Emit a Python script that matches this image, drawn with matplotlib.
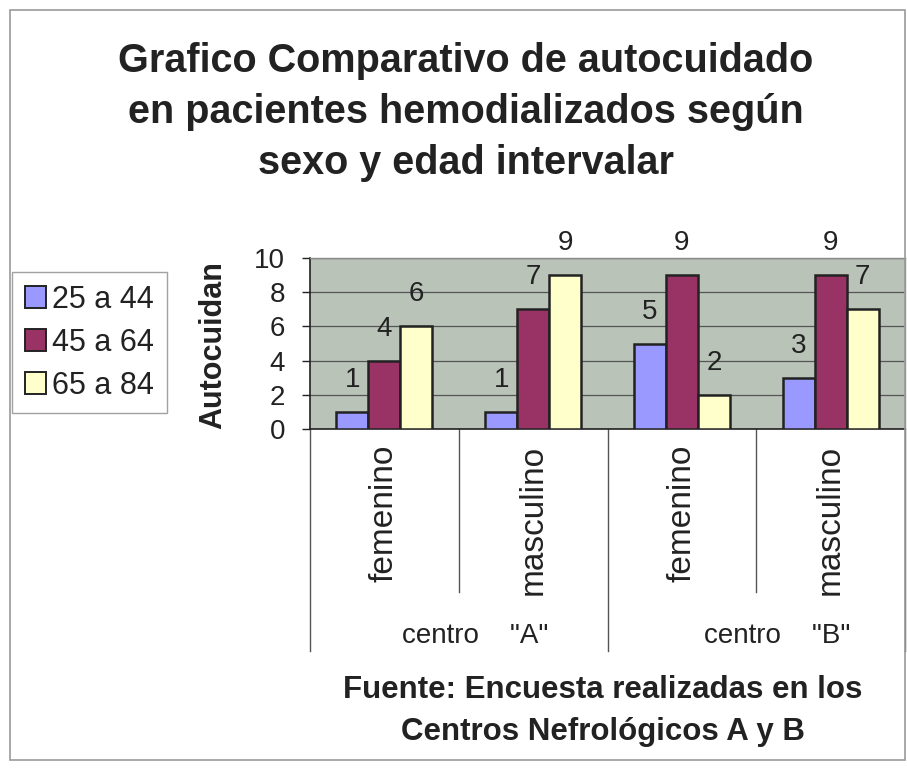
import numpy as np
import matplotlib.pyplot as plt
from matplotlib.patches import Rectangle, Patch
from matplotlib.lines import Line2D

plt.rcParams['font.family'] = ['Liberation Sans', 'DejaVu Sans']

# data
categorias = ['femenino', 'masculino', 'femenino', 'masculino']
centros = ['centro    "A"', 'centro    "B"']
series = ['25 a 44', '45 a 64', '65 a 84']
v_25_44 = [1, 1, 5, 3]
v_45_64 = [4, 7, 9, 9]
v_65_84 = [6, 9, 2, 7]
valores = [v_25_44, v_45_64, v_65_84]
colores = ['#9999ff', '#993366', '#ffffcc']

W, H = 907, 768
fig = plt.figure(figsize=(W / 100, H / 100), dpi=100)
fig.patch.set_facecolor('white')

# outer frame
fig.add_artist(Rectangle((10 / W, 8 / H), 895 / W, 750 / H, transform=fig.transFigure,
                         fill=False, edgecolor='#9a9a9a', lw=1.2))

ax = fig.add_axes([310 / W, 1 - 429 / H, 595 / W, 171 / H])
ax.set_facecolor('#b9c3b8')

x = np.arange(len(categorias))
ancho = 0.215
for i, (vals, col) in enumerate(zip(valores, colores)):
    pos = x + (i - 1) * ancho
    ax.bar(pos, vals, ancho, color=col, edgecolor='#222222', linewidth=1.8,
           label=series[i], zorder=3)
    for px, v in zip(pos, vals):
        ax.annotate(str(v), (px, v), xytext=(0, 23), textcoords='offset points',
                    ha='center', va='center', fontsize=20, color='#222222',
                    annotation_clip=False)

ax.set_xlim(-0.5, len(categorias) - 0.5)
ax.set_ylim(0, 10)
ax.set_yticks(np.arange(0, 11, 2))
ax.tick_params(axis='y', labelsize=20, length=6, width=1, pad=12, colors='#222222')
ax.set_xticks([])
ax.yaxis.grid(True, color='#555555', lw=0.9, zorder=0)
ax.set_axisbelow(True)
for s in ['top', 'right']:
    ax.spines[s].set_color('#8a8a8a')
    ax.spines[s].set_linewidth(1)
ax.spines['left'].set_color('#222222')
ax.spines['bottom'].set_color('#222222')
ax.spines['left'].set_linewidth(1.2)
ax.spines['bottom'].set_linewidth(1.2)
ax.set_ylabel('Autocuidan', fontsize=22, fontweight='bold', color='#222222')
ax.yaxis.set_label_coords(-0.138, 0.49)

# multi-level category axis
trans = ax.get_xaxis_transform()
ax_h = 171.0
for xv, largo in [(-0.5, 222), (0.5, 163), (1.5, 222), (2.5, 163), (3.5, 222)]:
    ax.add_line(Line2D([xv, xv], [0, -largo / ax_h], transform=trans, color='#555555',
                       lw=1, clip_on=False))
for xi, cat in zip(x, categorias):
    ax.text(xi, -16 / ax_h, cat, transform=trans, rotation=90, ha='center', va='top',
            fontsize=24, color='#222222')
for j, (c, dx) in enumerate(zip(centros, [0.11, 0.14])):
    ax.text(2 * j + 0.5 + dx, -207 / ax_h, c, transform=trans, ha='center', va='center',
            fontsize=20, color='#222222')

# legend
handles = [Patch(facecolor=c, edgecolor='#222222', linewidth=1.4) for c in colores]
leg = fig.legend(handles, series, loc='upper left', bbox_to_anchor=(12 / W, 1 - 272 / H),
                 fontsize=22, frameon=True, fancybox=False, handlelength=0.7,
                 handleheight=0.7, handletextpad=0.2, labelspacing=0.42,
                 borderpad=0.42, borderaxespad=0)
leg.get_frame().set_edgecolor('#8a8a8a')
leg.get_frame().set_linewidth(1)
for t in leg.get_texts():
    t.set_color('#222222')

# title
fig.text(466 / W, 1 - 112 / H,
         'Grafico Comparativo de autocuidado\nen pacientes hemodializados según\nsexo y edad intervalar',
         ha='center', va='center', fontsize=28.5, fontweight='bold', color='#222222',
         linespacing=1.42)

# footer
fig.text(603 / W, 1 - 711 / H,
         'Fuente: Encuesta realizadas en los\nCentros Nefrológicos A y B',
         ha='center', va='center', fontsize=22.5, fontweight='bold', color='#222222',
         linespacing=1.48)

fig.savefig('out.png', dpi=100, facecolor='white')
